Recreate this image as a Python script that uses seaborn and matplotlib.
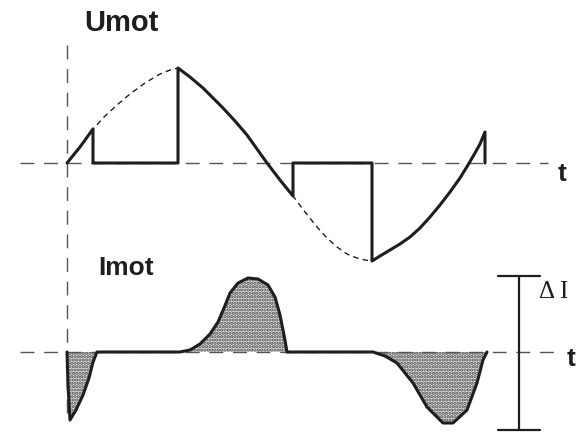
import numpy as np
import matplotlib
matplotlib.use("Agg")
import matplotlib.pyplot as plt
import seaborn as sns

sns.set_theme(style="white")
plt.rcParams['font.family'] = ['Liberation Sans', 'DejaVu Sans']
plt.rcParams['hatch.linewidth'] = 1.6
plt.rcParams['hatch.color'] = '#444444'

# canvas units follow the picture: x to the right, y downward
# reference sine (motor voltage)
sine_x = [67, 80, 93, 105, 117, 130, 145, 160, 170, 178, 190, 203, 213, 223,
          235, 247, 257, 267, 280, 293, 305, 317, 327, 337, 347, 357, 365, 372,
          380, 390, 400, 410, 420, 430, 440, 450, 460, 468, 475, 480, 485]
sine_y = [163, 147, 129, 116, 105, 94, 83, 74, 70, 68, 77, 88, 98, 108,
          121, 135, 149, 163, 180, 196, 212, 227, 238, 247, 254, 258, 260, 261,
          256, 250, 244, 237, 228, 217, 205, 192, 178, 165, 153, 144, 132]

# chopped motor voltage (follows the sine, drops to zero between pulses)
umot_x = [67, 80, 93, 93, 178, 178, 190, 203, 213, 223, 235, 247, 257, 267,
          280, 293, 293, 372, 372, 380, 390, 400, 410, 420, 430, 440, 450, 460,
          468, 475, 480, 485, 485]
umot_y = [163, 147, 129, 163, 163, 68, 77, 88, 98, 108, 121, 135, 149, 163,
          180, 196, 163, 163, 261, 256, 250, 244, 237, 228, 217, 205, 192, 178,
          165, 153, 144, 132, 163]

# motor current
imot_x = [67, 68, 70, 76, 83, 89, 93, 97, 180, 190, 200, 210, 218, 224, 230,
          238, 248, 258, 268, 275, 280, 284, 287, 373, 385, 397, 413, 427, 443,
          453, 467, 477, 483, 487]
imot_y = [352, 385, 420, 410, 395, 378, 362, 352, 352, 350, 344, 334, 322, 308,
          293, 283, 278, 279, 285, 297, 315, 335, 352, 352, 356, 363, 383, 407,
          423, 423, 410, 383, 360, 352]

U_AXIS = 163
I_AXIS = 352

fig = plt.figure(figsize=(5.88, 4.33), dpi=100)
ax = fig.add_axes([0, 0, 1, 1])
ax.set_xlim(0, 588)
ax.set_ylim(433, 0)
ax.axis('off')

ink = '#1e1e1e'

# axes (dashed)
ax.plot([20, 548], [U_AXIS, U_AXIS], color='#555555', lw=1.0, dashes=(10, 7))
ax.plot([20, 562], [I_AXIS, I_AXIS], color='#555555', lw=1.0, dashes=(10, 7))
ax.plot([67, 67], [45, 420], color='#555555', lw=1.0, dashes=(10, 7))

# reference sine (thin dashed)
ax.plot(sine_x, sine_y, color=ink, lw=1.0, dashes=(4, 3))

# chopped voltage
sns.lineplot(x=umot_x, y=umot_y, sort=False, estimator=None, ax=ax,
             color=ink, lw=2.2)

# current with hatched area
ax.fill_between(imot_x, imot_y, I_AXIS, facecolor='#e6e6e6',
                hatch='.....', edgecolor='#444444', linewidth=0)
sns.lineplot(x=imot_x, y=imot_y, sort=False, estimator=None, ax=ax,
             color=ink, lw=2.2)

# delta I scale bar
ax.plot([519, 519], [276, 430], color=ink, lw=1.6)
ax.plot([498, 540], [276, 276], color=ink, lw=1.6)
ax.plot([498, 540], [430, 430], color=ink, lw=1.6)

# labels
ax.text(84, 23, "Umot", fontsize=21, fontweight='bold', color=ink,
        ha='left', va='center')
ax.text(98, 268, "Imot", fontsize=19, fontweight='bold', color=ink,
        ha='left', va='center')
ax.text(558, 174, "t", fontsize=19, fontweight='bold', color=ink,
        ha='left', va='center')
ax.text(567, 359, "t", fontsize=19, fontweight='bold', color=ink,
        ha='left', va='center')
ax.text(539, 292, "Δ I", fontsize=18, color=ink, ha='left', va='center',
        family=['Liberation Serif', 'DejaVu Serif'])

fig.savefig("out.png", dpi=100)
